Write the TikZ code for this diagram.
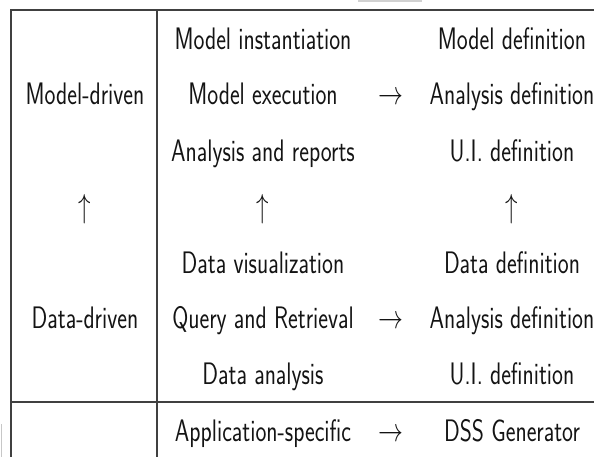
\documentclass[tikz,border=0pt]{standalone}
\usepackage{graphicx}
\newcommand{\tx}[1]{\scalebox{1}[1.34]{#1}}
\tikzset{
  cell/.style={anchor=base, inner sep=0pt, font=\fontsize{23.2}{27}\selectfont\sffamily, text=black!92},
  tabrule/.style={line width=2.2pt, draw=black!75},
  faint/.style={draw=black!18, line width=1.5pt}
}
\begin{document}
\begin{tikzpicture}[x=1pt,y=-1pt]
\useasboundingbox (0,0) rectangle (594,457);
% faint fragments at the crop edges
\coordinate (fa) at (358,1); \coordinate (fb) at (422,1);
\draw[faint] (fa) -- (fb);
\coordinate (fc) at (1,424); \coordinate (fd) at (1,457);
\draw[faint, draw=black!22, line width=1pt] (fc) -- (fd);
% table rules
\coordinate (tl) at (11,10); \coordinate (tr) at (594,10);
\coordinate (bl) at (11,457);
\coordinate (st) at (157,10); \coordinate (sb) at (157,457);
\coordinate (ml) at (11,402); \coordinate (mr) at (594,402);
\draw[tabrule] (tr) -- (tl) -- (bl);
\draw[tabrule] (st) -- (sb);
\draw[tabrule] (ml) -- (mr);
% column 1
\node[cell] (md) at (85,105) {\tx{Model-driven}};
\node[cell] (up1) at (85,217) {\tx{$\uparrow$}};
\node[cell] (dd) at (85,328) {\tx{Data-driven}};
% column 2
\node[cell] (a1) at (263,50) {\tx{Model instantiation}};
\node[cell] (a2) at (263,105) {\tx{Model execution}};
\node[cell] (a3) at (263,162) {\tx{Analysis and reports}};
\node[cell] (up2) at (263,217) {\tx{$\uparrow$}};
\node[cell] (a5) at (263,273) {\tx{Data visualization}};
\node[cell] (a6) at (263,328) {\tx{Query and Retrieval}};
\node[cell] (a7) at (263,384) {\tx{Data analysis}};
\node[cell] (a8) at (263,441) {\tx{Application-specific}};
% arrows column
\node[cell] (r2) at (391,105) {\tx{$\rightarrow$}};
\node[cell] (r6) at (391,328) {\tx{$\rightarrow$}};
\node[cell] (r8) at (391,441) {\tx{$\rightarrow$}};
% column 3
\node[cell] (b1) at (512,50) {\tx{Model definition}};
\node[cell] (b2) at (512,105) {\tx{Analysis definition}};
\node[cell] (b3) at (512,162) {\tx{U.I. definition}};
\node[cell] (up3) at (512,217) {\tx{$\uparrow$}};
\node[cell] (b5) at (512,273) {\tx{Data definition}};
\node[cell] (b6) at (512,328) {\tx{Analysis definition}};
\node[cell] (b7) at (512,384) {\tx{U.I. definition}};
\node[cell] (b8) at (512,441) {\tx{DSS Generator}};
\end{tikzpicture}
\end{document}
